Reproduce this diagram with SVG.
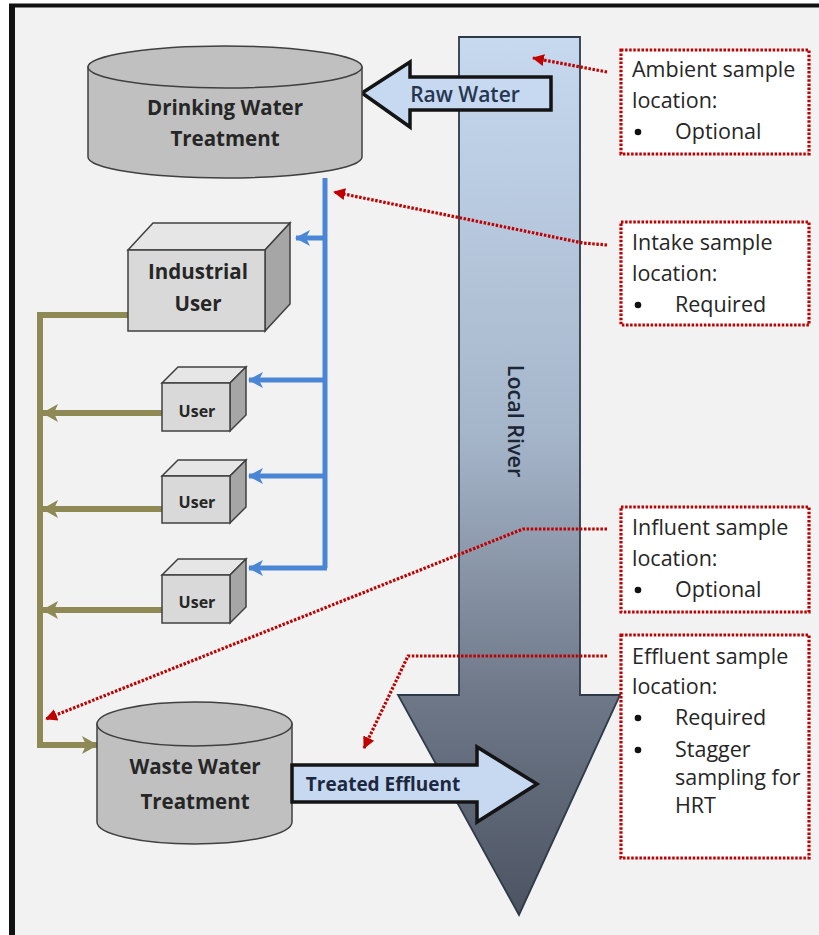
<svg xmlns="http://www.w3.org/2000/svg" width="819" height="935" viewBox="0 0 819 935">
<defs>
<style>
.lbl{font-family:"Open Sans","Liberation Sans",sans-serif;font-weight:bold;fill:#262626;text-anchor:middle}
.co{font-family:"Open Sans","Liberation Sans",sans-serif;font-size:21.5px;fill:#262626}
.cyl{fill:#c0c0c0;stroke:#404040;stroke-width:1.5}
.front{fill:#d9d9d9;stroke:#404040;stroke-width:1.5}
.top{fill:#e6e6e6;stroke:#404040;stroke-width:1.5}
.side{fill:#a6a6a6;stroke:#404040;stroke-width:1.5}
.blue{fill:none;stroke:#4a86d6;stroke-width:5}
.olive{fill:none;stroke:#8e8955;stroke-width:6}
.red{fill:none;stroke:#c00000;stroke-width:3.2;stroke-dasharray:2.5 1.6}
.callout{fill:#ffffff;stroke:#c00000;stroke-width:3.2;stroke-dasharray:2.5 1.6}
.flow{fill:#c6d9f1;stroke:#141414;stroke-width:3.5;stroke-linejoin:miter}
</style>
<linearGradient id="river" x1="0" y1="37" x2="0" y2="915" gradientUnits="userSpaceOnUse">
<stop offset="0" stop-color="#c6d9ef"/>
<stop offset="0.45" stop-color="#a6b6ca"/>
<stop offset="0.75" stop-color="#6e7888"/>
<stop offset="1" stop-color="#4c5462"/>
</linearGradient>
<marker id="ab" markerUnits="userSpaceOnUse" markerWidth="18" markerHeight="18" refX="14" refY="9" orient="auto">
<path d="M0,1 L15,9 L0,17 L4,9 Z" fill="#4a86d6"/>
</marker>
<marker id="ao" markerUnits="userSpaceOnUse" markerWidth="20" markerHeight="20" refX="15" refY="10" orient="auto">
<path d="M0,1 L16,10 L0,19 L4,10 Z" fill="#8e8955"/>
</marker>
<marker id="ar" markerUnits="userSpaceOnUse" markerWidth="14" markerHeight="14" refX="11" refY="7" orient="auto">
<path d="M0,1 L12,7 L0,13 Z" fill="#c00000"/>
</marker>
</defs>

<rect x="0" y="0" width="819" height="935" fill="#ffffff"/>
<rect x="12" y="6" width="807" height="929" fill="#f2f2f2"/>
<line x1="9" y1="5.5" x2="819" y2="5.5" stroke="#111" stroke-width="4"/>
<line x1="12" y1="4" x2="12" y2="935" stroke="#111" stroke-width="6"/>

<g id="river-node">
<polygon points="459,37 580,37 580,695 620,695 519,915 398,695 459,695" fill="url(#river)" stroke="#2f3a48" stroke-width="1.8"/>
<text transform="translate(508,421) rotate(90)" font-family="'Open Sans','Liberation Sans',sans-serif" font-size="21.5" font-weight="600" fill="#1c2533" text-anchor="middle">Local River</text>
</g>

<g id="connectors">
<polyline class="blue" points="325,178 325,568"/>
<line class="blue" x1="325" y1="238" x2="296" y2="238" marker-end="url(#ab)"/>
<line class="blue" x1="325" y1="380" x2="249" y2="380" marker-end="url(#ab)"/>
<line class="blue" x1="325" y1="476" x2="249" y2="476" marker-end="url(#ab)"/>
<line class="blue" x1="327" y1="568" x2="249" y2="568" marker-end="url(#ab)"/>
<polyline class="olive" points="128,315 40,315 40,745 97,745" marker-end="url(#ao)"/>
<line class="olive" x1="162" y1="413" x2="43" y2="413" marker-end="url(#ao)"/>
<line class="olive" x1="162" y1="509" x2="43" y2="509" marker-end="url(#ao)"/>
<line class="olive" x1="162" y1="610" x2="43" y2="610" marker-end="url(#ao)"/>
<polyline class="red" points="607,72 533,58" marker-end="url(#ar)"/>
<polyline class="red" points="607,245 583,243 334,192" marker-end="url(#ar)"/>
<polyline class="red" points="607,529 523,529 46,719" marker-end="url(#ar)"/>
<polyline class="red" points="607,656 408,656 364,748" marker-end="url(#ar)"/>
</g>

<g id="raw-water">
<polygon class="flow" points="362,93 410,62 410,77 551,77 551,110 410,110 410,127"/>
<text x="465" y="102" font-family="'Open Sans','Liberation Sans',sans-serif" font-size="21" font-weight="600" fill="#263650" text-anchor="middle">Raw Water</text>
</g>

<g id="drinking-water">
<path class="cyl" d="M88,67 L88,157 A137,21 0 0 0 362,157 L362,67 Z"/>
<ellipse class="cyl" cx="225" cy="67" rx="137" ry="21"/>
<text class="lbl" x="225" y="115" font-size="20.5">Drinking Water</text>
<text class="lbl" x="225" y="146" font-size="20.5">Treatment</text>
</g>

<g id="industrial-user">
<polygon class="top" points="128,250 153,223 290,223 265,250"/>
<polygon class="side" points="265,250 290,223 290,304 265,331"/>
<rect class="front" x="128" y="250" width="137" height="81"/>
<text class="lbl" x="198" y="279" font-size="20.5">Industrial</text>
<text class="lbl" x="198" y="311" font-size="20.5">User</text>
</g>

<g id="user-1">
<polygon class="top" points="162,383 178,367 246,367 230,383"/>
<polygon class="side" points="230,383 246,367 246,415 230,431"/>
<rect class="front" x="162" y="383" width="68" height="48"/>
<text class="lbl" x="197" y="417" font-size="16">User</text>
</g>
<g id="user-2">
<polygon class="top" points="162,476 178,460 246,460 230,476"/>
<polygon class="side" points="230,476 246,460 246,507 230,523"/>
<rect class="front" x="162" y="476" width="68" height="47"/>
<text class="lbl" x="197" y="508" font-size="16">User</text>
</g>
<g id="user-3">
<polygon class="top" points="162,575 178,559 246,559 230,575"/>
<polygon class="side" points="230,575 246,559 246,607 230,623"/>
<rect class="front" x="162" y="575" width="68" height="48"/>
<text class="lbl" x="197" y="608" font-size="16">User</text>
</g>

<g id="waste-water">
<path class="cyl" d="M97,724 L97,822 A97.5,22 0 0 0 292,822 L292,724 Z"/>
<ellipse class="cyl" cx="194.5" cy="724" rx="97.5" ry="22"/>
<text class="lbl" x="195" y="774" font-size="20.5">Waste Water</text>
<text class="lbl" x="195" y="809" font-size="20.5">Treatment</text>
</g>

<g id="treated-effluent">
<polygon class="flow" points="292,765 477,765 477,747 537,784 477,822 477,802 292,802"/>
<text x="383" y="791" font-family="'Open Sans','Liberation Sans',sans-serif" font-weight="bold" font-size="19" fill="#1c2840" text-anchor="middle">Treated Effluent</text>
</g>

<g id="ambient-callout">
<rect class="callout" x="621" y="50" width="188" height="104"/>
<text class="co" x="632" y="77">Ambient sample</text>
<text class="co" x="632" y="108">location:</text>
<circle cx="638" cy="132" r="3.3" fill="#111"/>
<text class="co" x="675" y="139">Optional</text>
</g>

<g id="intake-callout">
<rect class="callout" x="621" y="222" width="188" height="103"/>
<text class="co" x="632" y="250">Intake sample</text>
<text class="co" x="632" y="281">location:</text>
<circle cx="638" cy="305" r="3.3" fill="#111"/>
<text class="co" x="675" y="312">Required</text>
</g>

<g id="influent-callout">
<rect class="callout" x="621" y="507" width="188" height="105"/>
<text class="co" x="632" y="535">Influent sample</text>
<text class="co" x="632" y="566">location:</text>
<circle cx="638" cy="590" r="3.3" fill="#111"/>
<text class="co" x="675" y="597">Optional</text>
</g>

<g id="effluent-callout">
<rect class="callout" x="621" y="635" width="188" height="223"/>
<text class="co" x="632" y="664">Effluent sample</text>
<text class="co" x="632" y="694">location:</text>
<circle cx="638" cy="718" r="3.3" fill="#111"/>
<text class="co" x="675" y="725">Required</text>
<circle cx="638" cy="750" r="3.3" fill="#111"/>
<text class="co" x="675" y="757">Stagger</text>
<text class="co" x="675" y="785">sampling for</text>
<text class="co" x="675" y="813">HRT</text>
</g>
</svg>
